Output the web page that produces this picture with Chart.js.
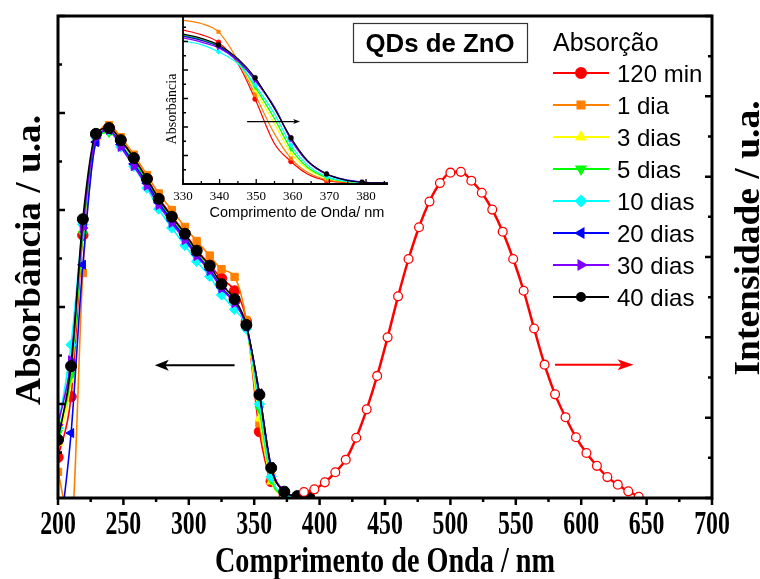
<!DOCTYPE html>
<html>
<head>
<meta charset="utf-8">
<script src="https://cdn.jsdelivr.net/npm/chart.js@4.4.1/dist/chart.umd.min.js"></script>
<style>
  html, body { margin: 0; padding: 0; background: #fff; }
  #wrap { position: relative; width: 760px; height: 579px; }
  #main { position: absolute; left: 0; top: 0; }
  #inset { position: absolute; left: 150px; top: 0; }
</style>
</head>
<body>
<div id="wrap">
  <canvas id="main" width="760" height="579"></canvas>
  <canvas id="inset" width="250" height="230"></canvas>
</div>
<script>
// ====================
// Data
// ====================
// absorption spectra (main plot), wavelength in nm
const absX = [200, 210, 219, 229, 239, 248, 258, 268, 277, 287, 297, 306, 316, 325, 335, 344, 354, 363, 373, 383, 392];
const abs120min = [0.09, 0.215, 0.548, 0.755, 0.77, 0.745, 0.708, 0.665, 0.625, 0.588, 0.552, 0.518, 0.487, 0.459, 0.433, 0.37, 0.143, 0.04, 0.012, 0.008, 0.007];
const abs1dia   = [0.06, -0.05, 0.47, 0.74, 0.775, 0.75, 0.714, 0.672, 0.634, 0.6, 0.565, 0.536, 0.506, 0.478, 0.462, 0.373, 0.16, 0.05, 0.008, 0.006, 0.006];
const abs3dias  = [0.12, 0.25, 0.56, 0.75, 0.765, 0.74, 0.702, 0.66, 0.62, 0.583, 0.547, 0.512, 0.48, 0.443, 0.412, 0.358, 0.17, 0.04, 0.012, 0.008, 0.007];
const abs5dias  = [0.14, 0.26, 0.55, 0.745, 0.76, 0.735, 0.7, 0.658, 0.617, 0.58, 0.545, 0.51, 0.478, 0.44, 0.41, 0.36, 0.19, 0.045, 0.013, 0.008, 0.007];
const abs10dias = [0.15, 0.322, 0.57, 0.75, 0.765, 0.73, 0.69, 0.645, 0.602, 0.563, 0.527, 0.494, 0.463, 0.425, 0.395, 0.355, 0.2, 0.05, 0.015, 0.008, 0.007];
const abs20dias = [-0.1, 0.14, 0.487, 0.74, 0.765, 0.735, 0.695, 0.655, 0.615, 0.578, 0.542, 0.508, 0.477, 0.44, 0.41, 0.36, 0.222, 0.07, 0.02, 0.01, 0.008];
const abs30dias = [0.157, 0.29, 0.563, 0.748, 0.765, 0.73, 0.69, 0.65, 0.61, 0.573, 0.538, 0.505, 0.474, 0.438, 0.408, 0.36, 0.22, 0.07, 0.02, 0.01, 0.008];
const abs40dias = [0.126, 0.278, 0.581, 0.757, 0.769, 0.744, 0.707, 0.664, 0.623, 0.586, 0.551, 0.516, 0.485, 0.447, 0.416, 0.363, 0.219, 0.068, 0.019, 0.01, 0.008];

// photoluminescence (right axis)
const emisX = [388, 396, 404, 412, 420, 428, 436, 444, 452, 460, 468, 476, 484, 492, 500, 508, 516, 524, 532, 540, 548, 556, 564, 572, 580, 588, 596, 604, 612, 620, 628, 636, 644];
const emisY = [0.075, 0.108, 0.195, 0.32, 0.477, 0.75, 1.104, 1.52, 2.0, 2.51, 2.975, 3.37, 3.69, 3.92, 4.05, 4.06, 3.95, 3.8, 3.59, 3.315, 2.975, 2.58, 2.11, 1.66, 1.29, 1.006, 0.756, 0.56, 0.4, 0.26, 0.166, 0.083, 0.016];

// inset: absorption edge
const insetX = [330, 335, 339.7, 345, 349.7, 355, 359.5, 364, 369.2, 374, 378.9, 386];
const insetMarks = [2, 4, 6, 8, 10];
const in120min = [0.540, 0.524, 0.497, 0.422, 0.298, 0.141, 0.079, 0.035, 0.012, 0.006, 0.003, 0.002];
const in1dia   = [0.575, 0.563, 0.534, 0.434, 0.314, 0.176, 0.090, 0.041, 0.015, 0.007, 0.004, 0.002];
const in3dias  = [0.516, 0.504, 0.481, 0.428, 0.330, 0.211, 0.108, 0.053, 0.021, 0.009, 0.005, 0.002];
const in5dias  = [0.522, 0.507, 0.483, 0.431, 0.340, 0.229, 0.123, 0.059, 0.023, 0.010, 0.005, 0.002];
const in10dias = [0.502, 0.489, 0.464, 0.422, 0.347, 0.246, 0.137, 0.067, 0.026, 0.011, 0.005, 0.002];
const in20dias = [0.519, 0.504, 0.482, 0.434, 0.366, 0.270, 0.158, 0.082, 0.036, 0.016, 0.007, 0.003];
const in30dias = [0.513, 0.498, 0.478, 0.431, 0.363, 0.267, 0.155, 0.079, 0.034, 0.015, 0.007, 0.003];
const in40dias = [0.526, 0.511, 0.488, 0.440, 0.373, 0.264, 0.162, 0.082, 0.035, 0.015, 0.006, 0.003];

const seriesNames  = ["120 min", "1 dia", "3 dias", "5 dias", "10 dias", "20 dias", "30 dias", "40 dias"];
const seriesColors = ["#ff0000", "#ff8000", "#ffff00", "#00ff00", "#00ffff", "#0000ff", "#8000ff", "#000000"];
const seriesStyles = ["circle", "rect", "triangle", "triangle", "rectRot", "triangle", "triangle", "circle"];
const seriesRot    = [0, 0, 0, 180, 0, -90, 90, 0];
const xTickLabels  = [200, 250, 300, 350, 400, 450, 500, 550, 600, 650, 700];
const insetTickLabels = [330, 340, 350, 360, 370, 380];

const absSets = [abs120min, abs1dia, abs3dias, abs5dias, abs10dias, abs20dias, abs30dias, abs40dias];
const insetSets = [in120min, in1dia, in3dias, in5dias, in10dias, in20dias, in30dias, in40dias];

const SERIF = '"Liberation Serif", "Times New Roman", serif';
const SANS = '"Liberation Sans", Arial, sans-serif';

// text with optional horizontal squeeze (width fit)
function drawText(ctx, text, x, y, o) {
    ctx.save();
    ctx.font = o.font;
    ctx.fillStyle = o.color || "#000";
    ctx.textAlign = o.align || "center";
    ctx.textBaseline = o.baseline || "alphabetic";
    ctx.translate(x, y);
    if (o.rot) ctx.rotate(o.rot);
    let s = o.squeeze || 1;
    if (o.width) s = o.width / ctx.measureText(text).width;
    ctx.scale(s, 1);
    ctx.fillText(text, 0, 0);
    ctx.restore();
}

function arrow(ctx, x1, y, x2, color, lw, headLen, headHalf) {
    const dir = Math.sign(x2 - x1);
    ctx.save();
    ctx.strokeStyle = color;
    ctx.fillStyle = color;
    ctx.lineWidth = lw;
    ctx.beginPath();
    ctx.moveTo(x1, y);
    ctx.lineTo(x2 - dir * headLen * 0.7, y);
    ctx.stroke();
    ctx.beginPath();
    ctx.moveTo(x2, y);
    ctx.lineTo(x2 - dir * headLen, y - headHalf);
    ctx.lineTo(x2 - dir * headLen * 0.75, y);
    ctx.lineTo(x2 - dir * headLen, y + headHalf);
    ctx.closePath();
    ctx.fill();
    ctx.restore();
}

// ====================
// Main chart decorations
// ====================
const mainDecor = {
    id: "mainDecor",
    afterDraw(chart) {
        const { ctx, chartArea: a } = chart;
        const sx = chart.scales.x, sy = chart.scales.y, sy2 = chart.scales.y2;
        ctx.save();
        ctx.strokeStyle = "#000";
        ctx.lineWidth = 2.5;
        ctx.beginPath();
        for (let v = 200; v <= 700; v += 25) {
            const px = sx.getPixelForValue(v);
            const len = v % 50 === 0 ? 7 : 4;
            ctx.moveTo(px, a.bottom);
            ctx.lineTo(px, a.bottom + len);
        }
        for (let k = 0; k <= 10; k++) {
            const v = k / 10;
            if (v < sy.min) continue;
            const py = sy.getPixelForValue(v);
            const len = k % 2 === 0 ? 7 : 4;
            ctx.moveTo(a.left, py);
            ctx.lineTo(a.left + len, py);
        }
        for (let k = 0; k <= 12; k++) {
            const py = sy2.getPixelForValue(k / 2);
            const len = k % 2 === 0 ? 7 : 4;
            ctx.moveTo(a.right, py);
            ctx.lineTo(a.right - len, py);
        }
        ctx.stroke();
        ctx.lineWidth = 3;
        ctx.strokeRect(a.left, a.top, a.right - a.left, a.bottom - a.top);
        ctx.restore();

        // tick labels and axis titles
        xTickLabels.forEach(v => {
            drawText(ctx, String(v), sx.getPixelForValue(v), 534, { font: "bold 34px " + SERIF, squeeze: 0.7 });
        });
        drawText(ctx, "Comprimento de Onda / nm", 385, 572, { font: "bold 36px " + SERIF, width: 340 });
        drawText(ctx, "Absorbância / u.a.", 40, 260, { font: "bold 36px " + SERIF, width: 290, rot: -Math.PI / 2 });
        drawText(ctx, "Intensidade / u.a.", 759, 238, { font: "bold 36px " + SERIF, width: 275, rot: -Math.PI / 2 });

        // arrows
        const ay = sy.getPixelForValue(0.28);
        arrow(ctx, sx.getPixelForValue(335), ay, sx.getPixelForValue(274), "#000", 2, 14, 5.5);
        const ry = sy2.getPixelForValue(1.66);
        arrow(ctx, sx.getPixelForValue(580), ry, sx.getPixelForValue(640), "#ff0000", 2, 16, 5.5);

        // title box
        ctx.save();
        ctx.strokeStyle = "#333";
        ctx.lineWidth = 1.2;
        ctx.strokeRect(353.5, 23.5, 174, 39);
        ctx.restore();
        drawText(ctx, "QDs de ZnO", 440, 52, { font: "bold 26px " + SANS, width: 149 });

        // legend
        drawText(ctx, "Absorção", 553, 51, { font: "25px " + SANS, align: "left" });
        seriesNames.forEach((name, i) => {
            const y = 73 + 32 * i;
            ctx.save();
            ctx.strokeStyle = seriesColors[i];
            ctx.fillStyle = seriesColors[i];
            ctx.lineWidth = 2;
            ctx.beginPath();
            ctx.moveTo(553, y);
            ctx.lineTo(609, y);
            ctx.stroke();
            Chart.helpers.drawPoint(ctx, {
                pointStyle: seriesStyles[i],
                rotation: seriesRot[i],
                radius: i === 7 ? 4 : 5,
                borderWidth: 1
            }, 581, y);
            ctx.fill();
            ctx.restore();
            drawText(ctx, name, 617, y + 8.5, { font: "24px " + SANS, align: "left" });
        });
    }
};

const mainSets = absSets.map((ys, i) => ({
    label: seriesNames[i],
    data: absX.map((x, k) => ({ x: x, y: ys[k] })),
    yAxisID: "y",
    borderColor: seriesColors[i],
    backgroundColor: seriesColors[i],
    borderWidth: 1.6,
    pointStyle: seriesStyles[i],
    pointRotation: seriesRot[i],
    pointRadius: i === 7 ? 5.5 : 5.2,
    pointBorderWidth: 1,
    cubicInterpolationMode: "monotone",
    order: 10 - i
}));
mainSets.push({
    label: "PL",
    data: emisX.map((x, k) => ({ x: x, y: emisY[k] })),
    yAxisID: "y2",
    borderColor: "#ff0000",
    borderWidth: 2.5,
    pointStyle: "circle",
    pointRadius: 4.4,
    pointBackgroundColor: "#ffffff",
    pointBorderColor: "#ff0000",
    pointBorderWidth: 1.3,
    cubicInterpolationMode: "monotone",
    order: 0
});

new Chart(document.getElementById("main"), {
    type: "line",
    data: { datasets: mainSets },
    options: {
        responsive: false,
        animation: false,
        devicePixelRatio: 1,
        layout: { padding: { top: 16, left: 0, right: 0, bottom: 0 } },
        plugins: { legend: { display: false }, tooltip: { enabled: false } },
        scales: {
            x: {
                type: "linear", min: 200, max: 700,
                grid: { display: false }, border: { display: false }, ticks: { display: false },
                afterFit(s) { s.height = 81; }
            },
            y: {
                type: "linear", position: "left", min: 0.006, max: 1.0,
                grid: { display: false }, border: { display: false }, ticks: { display: false },
                afterFit(s) { s.width = 58; }
            },
            y2: {
                type: "linear", position: "right", min: 0, max: 6,
                grid: { display: false }, border: { display: false }, ticks: { display: false },
                afterFit(s) { s.width = 48; }
            }
        }
    },
    plugins: [mainDecor]
});

// ====================
// Inset
// ====================
const insetDecor = {
    id: "insetDecor",
    afterDraw(chart) {
        const { ctx, chartArea: a } = chart;
        const sx = chart.scales.x, sy = chart.scales.y;
        ctx.save();
        ctx.strokeStyle = "#000";
        ctx.lineWidth = 1.3;
        ctx.beginPath();
        for (let v = 330; v <= 385; v += 5) {
            const px = sx.getPixelForValue(v);
            const len = v % 10 === 0 ? 5 : 3;
            ctx.moveTo(px, a.bottom);
            ctx.lineTo(px, a.bottom - len);
        }
        for (let k = 1; k * 0.05 <= sy.max; k++) {
            const py = sy.getPixelForValue(k * 0.05);
            const len = k % 2 === 0 ? 5 : 3;
            ctx.moveTo(a.left, py);
            ctx.lineTo(a.left + len, py);
        }
        ctx.stroke();
        ctx.lineWidth = 1.8;
        ctx.beginPath();
        ctx.moveTo(a.left, a.top);
        ctx.lineTo(a.left, a.bottom);
        ctx.lineTo(a.right, a.bottom);
        ctx.stroke();
        ctx.restore();

        insetTickLabels.forEach(v => {
            drawText(ctx, String(v), sx.getPixelForValue(v), 200, { font: "13px " + SERIF });
        });
        drawText(ctx, "Comprimento de Onda/ nm", 147, 217, { font: "14.5px " + SANS });
        drawText(ctx, "Absorbância", 26, 109, { font: "14px " + SERIF, rot: -Math.PI / 2 });

        arrow(ctx, sx.getPixelForValue(347.5), sy.getPixelForValue(0.219), sx.getPixelForValue(362), "#000", 1.2, 7, 2.5);
    }
};

const insetSetsCfg = insetSets.map((ys, i) => ({
    label: seriesNames[i],
    data: insetX.map((x, k) => ({ x: x, y: ys[k] })),
    borderColor: seriesColors[i],
    backgroundColor: seriesColors[i],
    borderWidth: 1.2,
    pointStyle: seriesStyles[i],
    pointRotation: seriesRot[i],
    pointRadius: c => insetMarks.includes(c.dataIndex) ? 2.5 : 0,
    pointBorderWidth: 0.5,
    cubicInterpolationMode: "monotone",
    order: 10 - i
}));

new Chart(document.getElementById("inset"), {
    type: "line",
    data: { datasets: insetSetsCfg },
    options: {
        responsive: false,
        animation: false,
        devicePixelRatio: 1,
        layout: { padding: { top: 17, left: 0, right: 12, bottom: 0 } },
        plugins: { legend: { display: false }, tooltip: { enabled: false } },
        scales: {
            x: {
                type: "linear", min: 330, max: 386,
                grid: { display: false }, border: { display: false }, ticks: { display: false },
                afterFit(s) { s.height = 46; }
            },
            y: {
                type: "linear", min: 0, max: 0.586,
                grid: { display: false }, border: { display: false }, ticks: { display: false },
                afterFit(s) { s.width = 33; }
            }
        }
    },
    plugins: [insetDecor]
});
</script>
</body>
</html>
